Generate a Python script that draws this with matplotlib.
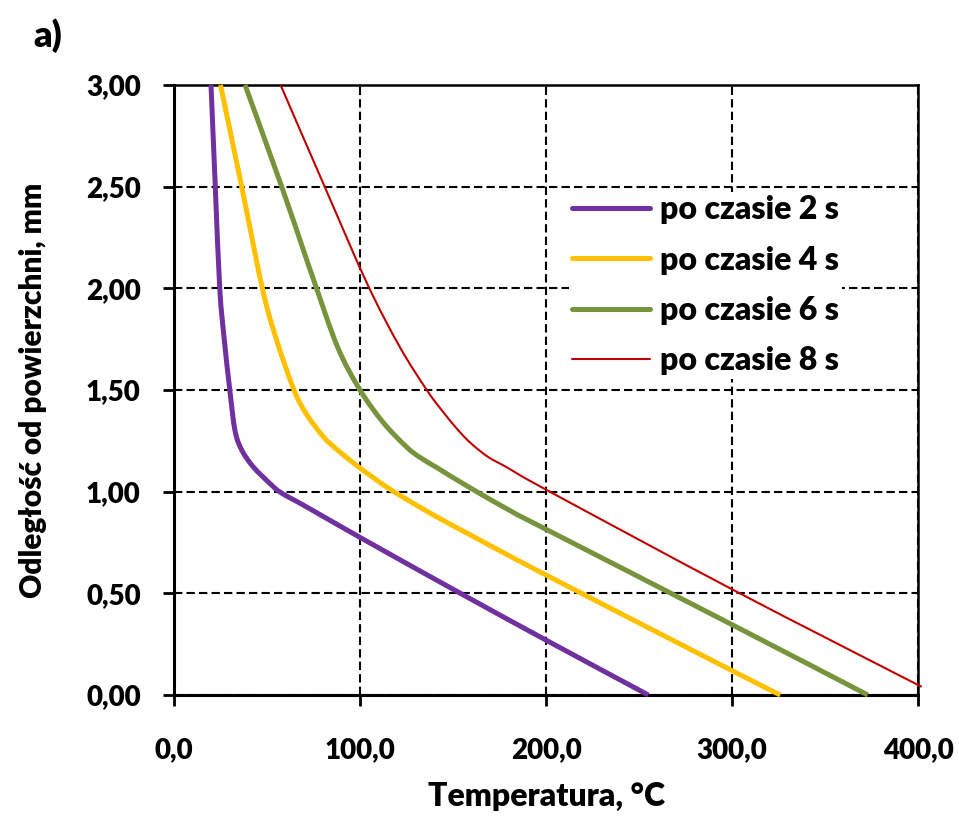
import matplotlib
matplotlib.use("Agg")
import matplotlib.pyplot as plt
from matplotlib.ticker import FixedLocator
from matplotlib.path import Path
from matplotlib.patches import PathPatch
from matplotlib.lines import Line2D

plt.rcParams['font.family'] = ['Lato', 'DejaVu Sans']
W = 'heavy'

# Data (temperature °C, depth mm)
t2 = [19.9, 22.2, 24.6, 27.0, 30.0, 32.8, 36.4, 42.5, 51.6, 57.5, 71.3, 100.0, 154.0, 200.0, 255.0]
d2 = [3.00, 2.50, 2.00, 1.75, 1.50, 1.30, 1.205, 1.123, 1.04, 0.995, 0.925, 0.775, 0.50, 0.27, 0.00]

t4 = [25.0, 36.4, 47.5, 55.0, 64.5, 71.3, 80.3, 86.0, 92.5, 99.5, 107.0, 116.5, 137.6, 160.8, 200.0, 300.0, 326.0]
d4 = [3.00, 2.50, 2.00, 1.75, 1.50, 1.38, 1.27, 1.22, 1.17, 1.12, 1.07, 1.01, 0.895, 0.78, 0.59, 0.12, 0.00]

t6 = [38.2, 57.9, 69.5, 75.5, 88.0, 100.0, 112.5, 125.0, 132.0, 141.0, 159.0, 182.0, 200.0, 300.0, 373.0]
d6 = [3.00, 2.50, 2.19, 2.03, 1.71, 1.50, 1.34, 1.22, 1.17, 1.12, 1.02, 0.90, 0.815, 0.346, 0.00]

t8 = [57.3, 81.0, 104.0, 121.5, 135.9, 144.0, 153.0, 160.0, 169.0, 178.9, 200.0, 300.0, 402.0]
d8 = [3.00, 2.50, 2.02, 1.71, 1.50, 1.40, 1.30, 1.235, 1.17, 1.12, 1.01, 0.52, 0.04]

labels = ['po czasie 2 s', 'po czasie 4 s', 'po czasie 6 s', 'po czasie 8 s']
colors = ['#7030A0', '#FFC000', '#77933C', '#C00000']
widths = [3.6, 3.6, 3.6, 1.5]

x_ticks = [0, 100, 200, 300, 400]
x_ticklabels = ['0,0', '100,0', '200,0', '300,0', '400,0']
y_ticks = [0, 0.5, 1.0, 1.5, 2.0, 2.5, 3.0]
y_ticklabels = ['0,00', '0,50', '1,00', '1,50', '2,00', '2,50', '3,00']

FS = 20


def smooth_path(xs, ys, tension=1/6):
    """Smoothed line through the points (Excel-like), as cubic Bezier path."""
    pts = list(zip(xs, ys))
    n = len(pts)
    verts = [pts[0]]
    codes = [Path.MOVETO]
    for i in range(n - 1):
        p0 = pts[i - 1] if i > 0 else pts[i]
        p1 = pts[i]
        p2 = pts[i + 1]
        p3 = pts[i + 2] if i + 2 < n else pts[i + 1]
        c1 = (p1[0] + (p2[0] - p0[0]) * tension, p1[1] + (p2[1] - p0[1]) * tension)
        c2 = (p2[0] - (p3[0] - p1[0]) * tension, p2[1] - (p3[1] - p1[1]) * tension)
        verts += [c1, c2, p2]
        codes += [Path.CURVE4] * 3
    return Path(verts, codes)


fig = plt.figure(figsize=(9.59, 8.19), dpi=100)
ax = fig.add_axes([174/959, 1-695/819, (918-174)/959, (695-85)/819])

series = [(t2, d2), (t4, d4), (t6, d6), (t8, d8)]
handles = []
for (t, d), lab, c, w in zip(series, labels, colors, widths):
    patch = PathPatch(smooth_path(t, d), facecolor='none', edgecolor=c, lw=w,
                      capstyle='butt', joinstyle='round', clip_on=False, zorder=3)
    ax.add_patch(patch)
    handles.append(Line2D([], [], color=c, lw=w, solid_capstyle='round'))

ax.set_xlim(0, 400)
ax.set_ylim(0, 3)
ax.xaxis.set_major_locator(FixedLocator(x_ticks))
ax.yaxis.set_major_locator(FixedLocator(y_ticks))
ax.set_xticklabels(x_ticklabels)
ax.set_yticklabels(y_ticklabels)

ax.grid(True, color='black', linestyle=(0, (4, 2)), linewidth=1.5, zorder=1)
ax.set_axisbelow(True)
for s in ['left', 'bottom']:
    ax.spines[s].set_linewidth(2.2)
for s in ['top', 'right']:
    ax.spines[s].set_linewidth(1.8)

ax.tick_params(axis='both', direction='out', length=8, width=2, labelsize=FS)
ax.tick_params(axis='y', pad=16)
ax.tick_params(axis='x', pad=22)
for lbl in ax.get_xticklabels() + ax.get_yticklabels():
    lbl.set_fontweight(W)

ax.set_xlabel('Temperatura, °C', fontsize=23, fontweight=W, labelpad=14)
ax.set_ylabel('Odległość od powierzchni, mm', fontsize=21.5, fontweight=W, labelpad=28)

leg = ax.legend(handles, labels, loc='upper left',
                bbox_to_anchor=((569-174)/744, (695-192)/610),
                frameon=True, fontsize=23, handlelength=2.45, handletextpad=0.3,
                labelspacing=0.67, borderaxespad=0, borderpad=0.1)
leg.get_frame().set_edgecolor('none')
leg.get_frame().set_facecolor('white')
leg.get_frame().set_alpha(1)
leg.set_zorder(2)
for t in leg.get_texts():
    t.set_fontweight(W)

fig.text(33/959, 1-36/819, 'a)', fontsize=26, fontweight=W, va='center', ha='left')

fig.savefig('out.png', dpi=100)
